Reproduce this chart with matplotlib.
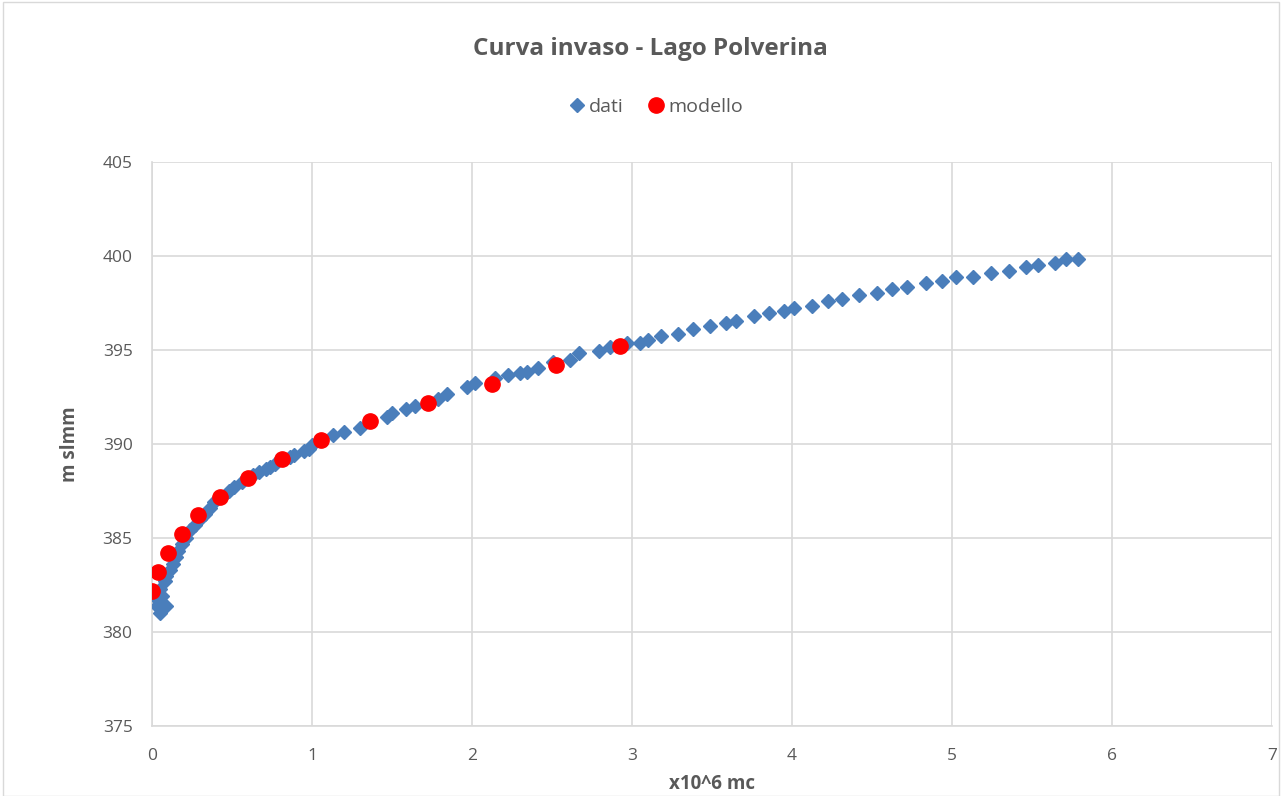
import matplotlib
matplotlib.use("Agg")
import matplotlib.pyplot as plt
from matplotlib.patches import Rectangle

# data (x10^6 mc, m slmm)
dati_x = [0.05, 0.06, 0.03, 0.09, 0.04, 0.06, 0.05, 0.08, 0.09, 0.11, 0.13, 0.15, 0.16,
          0.19, 0.21, 0.24, 0.27, 0.30, 0.33, 0.36, 0.39, 0.44, 0.48, 0.51, 0.56, 0.60,
          0.63, 0.67, 0.71, 0.74, 0.77, 0.86, 0.89, 0.95, 0.98, 1.00, 1.13, 1.20, 1.30,
          1.467, 1.498, 1.588, 1.644, 1.789, 1.842, 1.967, 2.019, 2.144, 2.227, 2.30,
          2.342, 2.414, 2.508, 2.613, 2.671, 2.796, 2.863, 2.967, 3.05, 3.102, 3.18,
          3.29, 3.383, 3.488, 3.588, 3.65, 3.764, 3.858, 3.95, 4.013, 4.123, 4.227,
          4.311, 4.421, 4.533, 4.627, 4.721, 4.836, 4.936, 5.023, 5.133, 5.248, 5.358,
          5.463, 5.539, 5.648, 5.711, 5.786]
dati_y = [381.0, 381.2, 381.4, 381.4, 381.7, 381.9, 382.3, 382.7, 383.0, 383.3, 383.6, 384.0, 384.3,
          384.7, 385.0, 385.4, 385.7, 386.0, 386.3, 386.6, 386.9, 387.2, 387.5, 387.7, 388.0, 388.2,
          388.35, 388.5, 388.65, 388.8, 388.95, 389.3, 389.4, 389.6, 389.75, 389.95, 390.5, 390.65, 390.85,
          391.45, 391.63, 391.85, 392.02, 392.39, 392.64, 393.02, 393.23, 393.5, 393.67, 393.76,
          393.84, 394.06, 394.38, 394.47, 394.83, 394.95, 395.14, 395.39, 395.36, 395.54, 395.75,
          395.87, 396.12, 396.29, 396.42, 396.54, 396.82, 396.95, 397.07, 397.25, 397.35, 397.62,
          397.71, 397.91, 398.03, 398.24, 398.35, 398.56, 398.67, 398.86, 398.86, 399.11, 399.19,
          399.4, 399.51, 399.63, 399.84, 399.83]

modello_x = [0.0, 0.0375, 0.10, 0.1875, 0.2875, 0.425, 0.60, 0.8125, 1.056, 1.3625,
             1.725, 2.125, 2.525, 2.925]
modello_y = [382.2, 383.2, 384.2, 385.2, 386.2, 387.2, 388.2, 389.2, 390.2, 391.2,
             392.2, 393.2, 394.2, 395.2]

x_ticks = [0, 1, 2, 3, 4, 5, 6, 7]
y_ticks = [375, 380, 385, 390, 395, 400, 405]

GRAY = "#595959"
fig = plt.figure(figsize=(12.82, 7.96), dpi=100)
fig.patches.append(Rectangle((0.002, 0.0), 0.996, 0.998, transform=fig.transFigure,
                             fill=False, edgecolor="#d9d9d9", linewidth=1))
ax = fig.add_axes([0.1186, 0.088, 0.8734, 0.7085])

ax.plot(dati_x, dati_y, linestyle="none", marker="D", markersize=7.5,
        color="#4a7ebb", label="dati", zorder=3)
ax.plot(modello_x, modello_y, linestyle="none", marker="o", markersize=11,
        color="#ff0000", label="modello", zorder=4)

ax.set_xlim(0, 7)
ax.set_ylim(375, 405)
ax.set_xticks(x_ticks)
ax.set_yticks(y_ticks)
ax.grid(True, color="#d9d9d9", linewidth=1.2)
ax.set_axisbelow(True)
for s in ["top", "right"]:
    ax.spines[s].set_visible(False)
for s in ["left", "bottom"]:
    ax.spines[s].set_color("#d9d9d9")
    ax.spines[s].set_linewidth(1.2)
ax.tick_params(axis="y", length=0, labelsize=12.5, colors=GRAY, pad=14)
ax.tick_params(axis="x", length=0, labelsize=12.5, colors=GRAY, pad=16)
for lab in ax.get_xticklabels() + ax.get_yticklabels():
    lab.set_family("Open Sans")

ax.set_xlabel("x10^6 mc", fontsize=13.5, fontweight="bold", color=GRAY,
              family="Open Sans", labelpad=7)
ax.set_ylabel("m slmm", fontsize=13.5, fontweight="bold", color=GRAY,
              family="Open Sans", labelpad=16)

fig.text(0.507, 0.938, "Curva invaso - Lago Polverina", ha="center", va="center",
         fontsize=17.5, color=GRAY, family="Open Sans", fontweight="bold")
leg = fig.legend(loc="center", bbox_to_anchor=(0.51, 0.866), ncol=2, frameon=False,
                 handletextpad=0.0, columnspacing=1.0, handlelength=1.3,
                 prop={"family": "Open Sans", "size": 14})
for t in leg.get_texts():
    t.set_color(GRAY)

fig.savefig("out.png", dpi=100)
